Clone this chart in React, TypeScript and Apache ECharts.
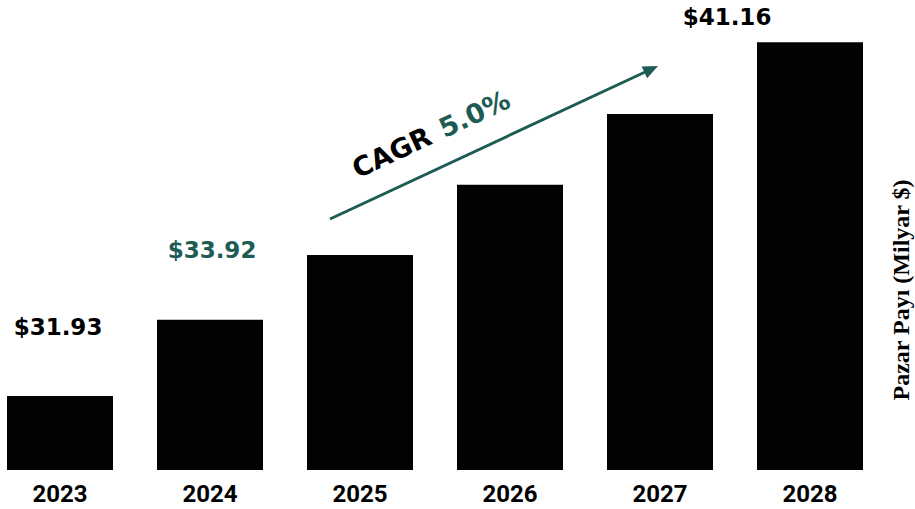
import React, { useEffect, useRef } from "react";
import * as echarts from "echarts";

const categories = ["2023", "2024", "2025", "2026", "2027", "2028"];
const values = [31.93, 33.92, 35.61, 37.44, 39.29, 41.16];
const valueLabels = ["$31.93", "$33.92", "", "", "", "$41.16"];
const axisName = "Pazar Payı (Milyar $)";
const cagrLabel = "CAGR";
const cagrValue = "5.0%";

const TEAL = "#1d5c55";
const SHIFT = 15;

export default function App() {
  const ref = useRef<HTMLDivElement>(null);
  useEffect(() => {
    if (!ref.current) return;
    const chart = echarts.init(ref.current, null, { renderer: "svg" });
    const labelCfg = [
      { color: "#000", distance: 58, offset: [-2, 0] },
      { color: TEAL, distance: 58, offset: [2, 0] },
      null,
      null,
      null,
      { color: "#000", distance: 14, offset: [-83, 0] },
    ];
    const data = values.map((v, i) => {
      const c = labelCfg[i];
      if (!c) return { value: v, label: { show: false } };
      return {
        value: v,
        label: {
          show: true,
          position: "top",
          distance: c.distance,
          offset: c.offset,
          color: c.color,
          formatter: valueLabels[i],
          fontFamily: "DejaVu Sans",
          fontWeight: "bold",
          fontSize: 23,
        },
      };
    });
    // arrow geometry
    const x1 = 330 + SHIFT, y1 = 219, tx = 658 + SHIFT, ty = 66;
    const dx = tx - x1, dy = ty - y1;
    const len = Math.sqrt(dx * dx + dy * dy);
    const ux = dx / len, uy = dy / len;
    const nx = -uy, ny = ux;
    const hl = 15, hw = 6.5;
    const bx = tx - ux * hl, by = ty - uy * hl;
    chart.setOption({
      animation: false,
      backgroundColor: "#fff",
      grid: { left: 0, right: 30, top: 10, bottom: 39, containLabel: false },
      xAxis: {
        type: "category",
        data: categories,
        axisLine: { show: false },
        axisTick: { show: false },
        axisLabel: {
          color: "#000",
          fontFamily: "Roboto",
          fontWeight: "bold",
          fontSize: 24,
          margin: 12,
        },
      },
      yAxis: {
        type: "value",
        min: 30,
        max: 42,
        show: false,
      },
      series: [
        {
          type: "bar",
          data,
          barWidth: 106,
          itemStyle: { color: "#020202" },
        },
      ],
      graphic: [
        {
          type: "line",
          shape: { x1, y1, x2: bx + ux * 2, y2: by + uy * 2 },
          style: { stroke: TEAL, lineWidth: 3 },
        },
        {
          type: "polygon",
          shape: {
            points: [
              [tx, ty],
              [bx + nx * hw, by + ny * hw],
              [bx - nx * hw, by - ny * hw],
            ],
          },
          style: { fill: TEAL },
        },
        {
          type: "text",
          x: 431 + SHIFT,
          y: 134,
          rotation: Math.atan2(-dy, dx),
          style: {
            text: `{a|${cagrLabel}}{s| }{b|${cagrValue}}`,
            align: "center",
            verticalAlign: "middle",
            rich: {
              a: { fontFamily: "DejaVu Sans", fontWeight: "bold", fontSize: 27, fill: "#000" },
              s: { fontSize: 27, width: 12 },
              b: { fontFamily: "DejaVu Sans", fontWeight: "bold", fontSize: 27, fill: TEAL },
            },
          },
        },
        {
          type: "text",
          x: 901 + SHIFT,
          y: 290,
          rotation: Math.PI / 2,
          style: {
            text: axisName,
            align: "center",
            verticalAlign: "middle",
            fontFamily: "Liberation Serif",
            fontWeight: "bold",
            fontSize: 24,
            fill: "#000",
          },
        },
      ],
    });
    return () => chart.dispose();
  }, []);
  return (
    <div
      ref={ref}
      style={{ position: "absolute", left: -SHIFT, top: 0, width: 915 + SHIFT, height: 509 }}
    />
  );
}
